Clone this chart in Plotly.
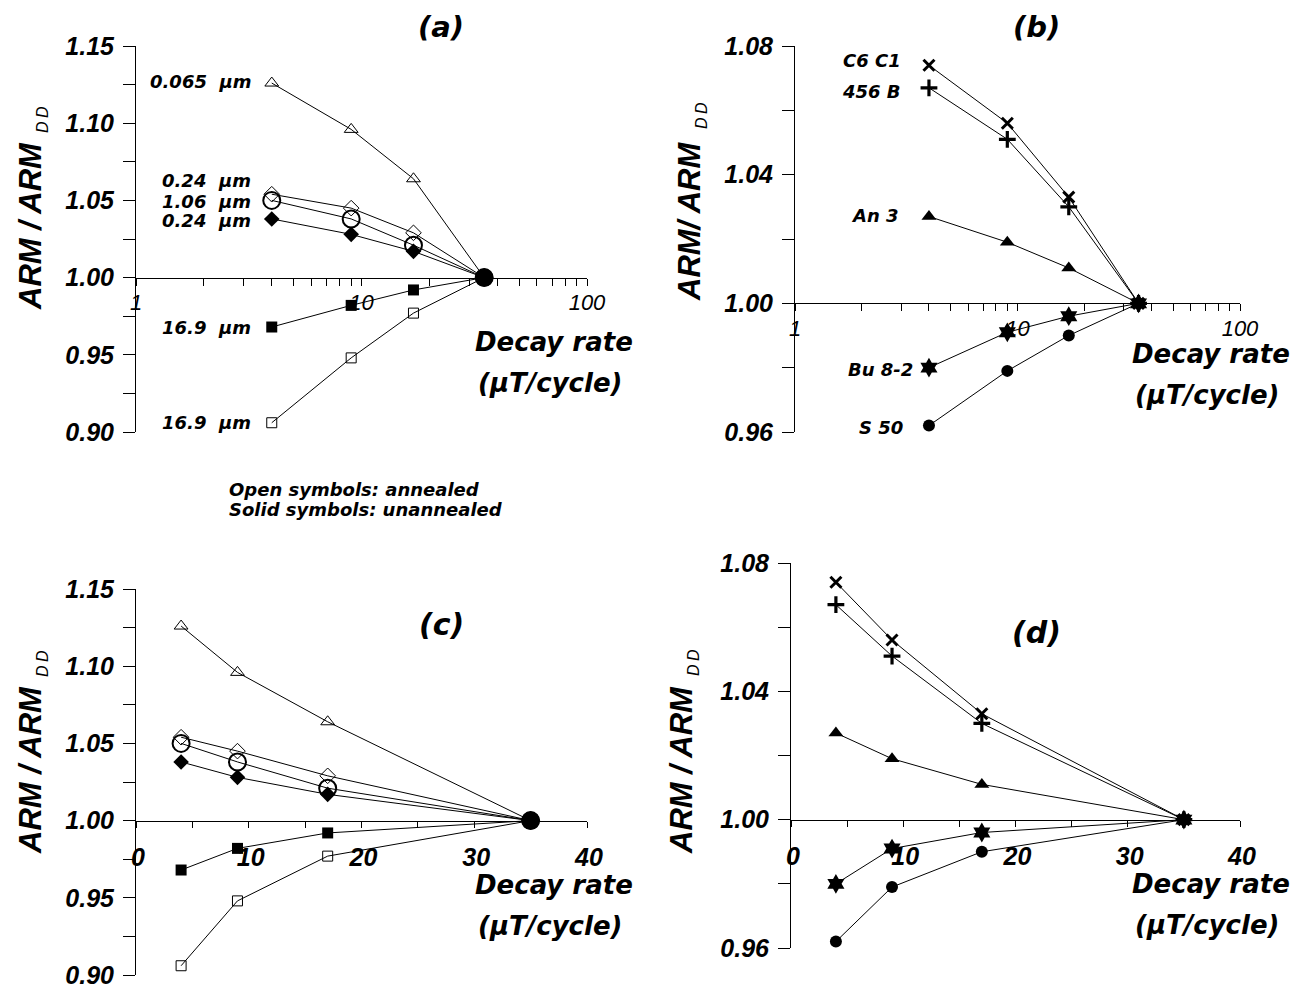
import plotly.graph_objects as go

# the page body has an 8px margin, so the figure is drawn 8px in from the corner
OFF = 8
W, H = 1308 - OFF, 986 - OFF

# ---------------- data ----------------
decay_rate = [4, 9, 17, 35]          # µT/cycle

# panels (a)/(c): synthetic grains
ann_0065 = [1.126, 1.096, 1.064, 1.000]    # 0.065 µm annealed (open triangle)
ann_024 = [1.054, 1.045, 1.029, 1.000]     # 0.24 µm annealed (open diamond)
ann_106 = [1.050, 1.038, 1.021, 1.000]     # 1.06 µm annealed (open circle)
unann_024 = [1.038, 1.028, 1.017, 1.000]   # 0.24 µm unannealed (solid diamond)
unann_169 = [0.968, 0.982, 0.992, 1.000]   # 16.9 µm unannealed (solid square)
ann_169 = [0.906, 0.948, 0.977, 1.000]     # 16.9 µm annealed (open square)

# panels (b)/(d): natural samples
c6c1 = [1.074, 1.056, 1.033, 1.000]
b456 = [1.067, 1.051, 1.030, 1.000]
an3 = [1.027, 1.019, 1.011, 1.000]
bu82 = [0.980, 0.991, 0.996, 1.000]
s50 = [0.962, 0.979, 0.990, 1.000]

norm_x = [35]
norm_y = [1.0]

labels_a = ["0.065  µm", "0.24  µm", "1.06  µm", "0.24  µm", "16.9  µm", "16.9  µm"]
labels_b = ["C6 C1", "456 B", "An 3", "Bu 8-2", "S 50"]

y_ticks_ac = [0.90, 0.925, 0.95, 0.975, 1.00, 1.025, 1.05, 1.075, 1.10, 1.125, 1.15]
y_text_ac = ["0.90", "", "0.95", "", "1.00", "", "1.05", "", "1.10", "", "1.15"]
y_ticks_bd = [0.96, 0.98, 1.00, 1.02, 1.04, 1.06, 1.08]
y_text_bd = ["0.96", "", "1.00", "", "1.04", "", "1.08"]
x_log_ticks = [1, 2, 3, 4, 5, 6, 7, 8, 9, 10, 20, 30, 40, 50, 60, 70, 80, 90, 100]
x_log_text = ["1", "", "", "", "", "", "", "", "", "10", "", "", "", "", "", "", "", "", "100"]
x_lin_ticks = [0, 5, 10, 15, 20, 25, 30, 35, 40]
x_lin_text = ["0", "", "10", "", "20", "", "30", "", "40"]

# ---------------- helpers ----------------
def fx(p):
    return (p - OFF) / W

def fy(p):
    return 1 - (p - OFF) / H

ARIAL = "Liberation Sans, Arial"
WIDE = "DejaVu Sans, Verdana"

panels = [
    dict(k="", x0=136, x1=587, yt=46, yb=432, log=True, yr=[0.90, 1.15], grp="ac"),
    dict(k="2", x0=795, x1=1240, yt=46, yb=432, log=True, yr=[0.96, 1.08], grp="bd"),
    dict(k="3", x0=136, x1=587, yt=589, yb=975, log=False, yr=[0.90, 1.15], grp="ac"),
    dict(k="4", x0=791, x1=1240, yt=563, yb=948, log=False, yr=[0.96, 1.08], grp="bd"),
]

fig = go.Figure()

series_ac = [
    (ann_0065, dict(symbol="triangle-up-open", size=12, color="black", line=dict(width=1, color="black"))),
    (ann_024, dict(symbol="diamond-open", size=12, color="black", line=dict(width=1, color="black"))),
    (ann_106, dict(symbol="circle-open", size=17, color="black", line=dict(width=2, color="black"))),
    (unann_024, dict(symbol="diamond", size=12, color="black", line=dict(width=0))),
    (unann_169, dict(symbol="square", size=11, color="black", line=dict(width=0))),
    (ann_169, dict(symbol="square-open", size=10, color="black", line=dict(width=1, color="black"))),
]
series_bd = [
    (c6c1, dict(symbol="x-thin-open", size=11, color="black", line=dict(width=3, color="black"))),
    (b456, dict(symbol="cross-thin-open", size=12, color="black", line=dict(width=3.2, color="black"))),
    (an3, dict(symbol="triangle-up", size=13, color="black", line=dict(width=0))),
    (bu82, dict(symbol="hexagram", size=15, color="black", line=dict(width=0))),
    (s50, dict(symbol="circle", size=12, color="black", line=dict(width=0))),
]

layout_axes = {}
for p in panels:
    k = p["k"]
    xa = "xaxis" + k
    ya = "yaxis" + k
    d0, d1 = fy(p["yb"]), fy(p["yt"])
    frac = (1.0 - p["yr"][0]) / (p["yr"][1] - p["yr"][0])
    xpos = d0 + frac * (d1 - d0)
    common_x = dict(
        domain=[fx(p["x0"]), fx(p["x1"])], anchor="free", position=xpos,
        tickmode="array", ticks="outside", tickwidth=1, tickcolor="black",
        showline=True, linecolor="black", linewidth=1,
        showgrid=False, zeroline=False, automargin=False,
        ticklabeloverflow="allow",
    )
    if p["log"]:
        layout_axes[xa] = dict(
            common_x, type="log", range=[0, 2],
            tickvals=x_log_ticks, ticktext=x_log_text, ticklen=7,
            tickfont=dict(family=ARIAL, size=22, color="black", style="italic"),
            ticklabelstandoff=-2,
        )
    else:
        layout_axes[xa] = dict(
            common_x, type="linear", range=[0, 40],
            tickvals=x_lin_ticks, ticktext=x_lin_text, ticklen=6,
            tickfont=dict(family=ARIAL, size=25, color="black", weight="bold", style="italic"),
            ticklabelstandoff=8, ticklabelshift=2,
        )
    yt = y_ticks_ac if p["grp"] == "ac" else y_ticks_bd
    ytx = y_text_ac if p["grp"] == "ac" else y_text_bd
    layout_axes[ya] = dict(
        range=p["yr"], domain=[d0, d1], anchor="x" + k,
        tickmode="array", tickvals=yt, ticktext=ytx,
        ticks="outside", ticklen=12, tickwidth=1, tickcolor="black",
        showline=True, linecolor="black", linewidth=1,
        showgrid=False, zeroline=False, automargin=False,
        ticklabeloverflow="allow",
        tickfont=dict(family=ARIAL, size=25, color="black", weight="bold", style="italic"),
        ticklabelstandoff=4,
    )

    series = series_ac if p["grp"] == "ac" else series_bd
    for yv, mk in series:
        fig.add_trace(go.Scatter(
            x=decay_rate, y=yv, mode="lines+markers",
            line=dict(color="black", width=1), marker=mk,
            xaxis="x" + k, yaxis="y" + k, showlegend=False, cliponaxis=False,
        ))
    if p["grp"] == "ac":
        fig.add_trace(go.Scatter(
            x=norm_x, y=norm_y, mode="markers",
            marker=dict(symbol="circle", size=18, color="black"),
            xaxis="x" + k, yaxis="y" + k, showlegend=False, cliponaxis=False,
        ))

annotations = []

def txt(text, x, y, size, family=WIDE, xanchor="center", yanchor="middle",
        weight="bold", style="italic", angle=0):
    annotations.append(dict(
        text=text, x=fx(x), y=fy(y), xref="paper", yref="paper",
        xanchor=xanchor, yanchor=yanchor, showarrow=False, textangle=angle,
        font=dict(family=family, size=size, color="black", weight=weight, style=style),
    ))

# panel titles
txt("(a)", 441, 27, 29)
txt("(b)", 1036, 27, 29)
txt("(c)", 441, 624, 30)
txt("(d)", 1036, 632, 30)

# y titles
for (cx, cy, t, dtop) in [(30, 226, "ARM / ARM", 137), (689, 222, "ARM/ ARM", 133),
                          (30, 770, "ARM / ARM", 681), (681, 770, "ARM / ARM", 680)]:
    txt(t, cx, cy, 31, family=ARIAL, angle=-90)
    txt("D", cx + 12, dtop - 10, 16, family=ARIAL, weight="normal", angle=-90)
    txt("D", cx + 12, dtop - 25, 16, family=ARIAL, weight="normal", angle=-90)

# x titles
for (cx, cy) in [(554, 342), (1211, 354), (554, 885), (1211, 884)]:
    txt("Decay rate", cx, cy, 26)
    txt("(µT/cycle)", cx - 4, cy + 41, 26)

# series labels (a)
for t, y in zip(labels_a, [82, 181, 201, 221, 328, 423]):
    txt(t, 253, y, 18, xanchor="right")
# series labels (b)
for t, y, xr in zip(labels_b, [61, 91, 215, 370, 427], [903, 903, 901, 915, 905]):
    txt(t, xr, y, 18, xanchor="right")

# note
txt("Open symbols: annealed", 227, 489, 18, xanchor="left")
txt("Solid symbols: unannealed", 227, 510, 18, xanchor="left")

fig.update_layout(
    width=W, height=H, margin=dict(l=0, r=0, t=0, b=0, autoexpand=False),
    paper_bgcolor="white", plot_bgcolor="white",
    showlegend=False, annotations=annotations, **layout_axes,
)

fig.write_html("out.html")
